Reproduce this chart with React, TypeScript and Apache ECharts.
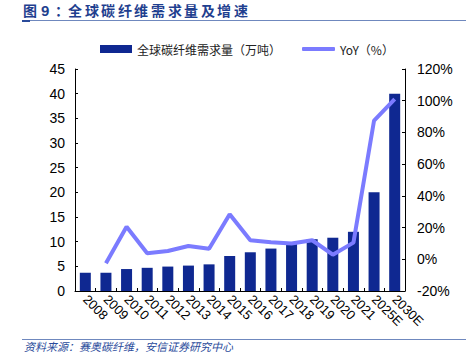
import React, { useEffect, useRef } from "react";
import * as echarts from "echarts";

const categories = ["2008","2009","2010","2011","2012","2013","2014","2015","2016","2017","2018","2019","2020","2021","2025E","2030E"];
const demand = [3.7, 3.7, 4.45, 4.7, 4.95, 5.15, 5.4, 7.1, 7.85, 8.6, 9.6, 10.5, 10.8, 12.0, 20.0, 40.0];
const yoy: (number | null)[] = [null, -2.5, 20.5, 3.8, 5.2, 8.4, 6.7, 28.4, 12.0, 10.7, 9.9, 12.0, 2.9, 10.5, 87.5, 101];
const leftTicks = { min: 0, max: 45, interval: 5 };
const rightTicks = { min: -20, max: 120, interval: 20 };

const barName = "全球碳纤维需求量（万吨）";
const lineName = "YoY（%）";
const titleChars = ["图", "9", "：", "全", "球", "碳", "纤", "维", "需", "求", "量", "及", "增", "速"];
const sourceText = "资料来源：赛奥碳纤维，安信证券研究中心";

export default function App() {
  const ref = useRef<HTMLDivElement>(null);
  useEffect(() => {
    if (!ref.current) return;
    const chart = echarts.init(ref.current, null, { renderer: "svg" });
    const font = "Liberation Sans, Arial, sans-serif";
    const cjk = "Noto Sans CJK SC, sans-serif";
    const titleX = [23, 41, 55, 68, 85, 101, 118, 134, 151, 168, 184, 201, 217, 234];
    const titleGraphics = titleChars.map((ch, i) => ({
      type: "text",
      x: titleX[i],
      y: 3,
      style: {
        text: ch,
        fill: "#1f3f8f",
        font: (ch === "9" ? "bold 15px " + font : "bold 14px " + cjk),
      },
    }));
    chart.setOption({
      animation: false,
      backgroundColor: "#ffffff",
      textStyle: { fontFamily: font },
      grid: { left: 75, right: 66, top: 69, bottom: 64, containLabel: false },
      legend: [
        {
          data: [{ name: barName, icon: "rect" }],
          left: 95,
          top: 38,
          itemWidth: 32,
          itemHeight: 8,
          itemGap: 4,
          textStyle: { fontFamily: cjk, fontSize: 12, color: "#222" },
        },
        {
          data: [{ name: lineName, icon: "roundRect" }],
          left: 297,
          top: 38,
          itemWidth: 33,
          itemHeight: 4,
          textStyle: { fontFamily: cjk, fontSize: 12, color: "#222" },
        },
      ],
      xAxis: {
        type: "category",
        data: categories,
        axisLine: { lineStyle: { color: "#000", width: 1 } },
        axisTick: { show: true, inside: true, length: 3, lineStyle: { color: "#000" } },
        axisLabel: {
          rotate: -45,
          interval: 0,
          fontSize: 13,
          color: "#000",
          fontFamily: font,
          margin: 6,
        },
      },
      yAxis: [
        {
          type: "value",
          min: leftTicks.min,
          max: leftTicks.max,
          interval: leftTicks.interval,
          splitLine: { show: false },
          axisLine: { show: true, lineStyle: { color: "#000" } },
          axisTick: { show: true, inside: true, length: 3, lineStyle: { color: "#000" } },
          axisLabel: { fontSize: 14, color: "#000", margin: 10, fontFamily: font },
        },
        {
          type: "value",
          min: rightTicks.min,
          max: rightTicks.max,
          interval: rightTicks.interval,
          splitLine: { show: false },
          axisLine: { show: true, lineStyle: { color: "#000" } },
          axisTick: { show: true, inside: true, length: 3, lineStyle: { color: "#000" } },
          axisLabel: { fontSize: 14, color: "#000", margin: 12, formatter: "{value}%", fontFamily: font },
        },
      ],
      series: [
        {
          name: barName,
          type: "bar",
          data: demand,
          yAxisIndex: 0,
          barWidth: 11,
          itemStyle: { color: "#0f2891" },
        },
        {
          name: lineName,
          type: "line",
          data: yoy,
          yAxisIndex: 1,
          showSymbol: false,
          symbol: "none",
          connectNulls: false,
          lineStyle: { color: "#7b7bff", width: 4 },
          itemStyle: { color: "#7b7bff" },
        },
      ],
      graphic: [
        ...titleGraphics,
        {
          type: "rect",
          shape: { x: 22, y: 20, width: 444, height: 1 },
          style: { fill: "#6f88be" },
        },
        {
          type: "rect",
          shape: { x: 22, y: 20, width: 8, height: 2 },
          style: { fill: "#2a4b9b" },
        },
        {
          type: "rect",
          shape: { x: 22, y: 339, width: 444, height: 1 },
          style: { fill: "#6f88be" },
        },
        {
          type: "text",
          left: 24,
          top: 340,
          style: {
            text: sourceText,
            fill: "#2a4b9b",
            font: "italic 11px " + cjk,
          },
        },
      ],
    });
    return () => chart.dispose();
  }, []);
  return <div ref={ref} style={{ width: 471, height: 355, position: "absolute", left: 0, top: 0 }} />;
}
